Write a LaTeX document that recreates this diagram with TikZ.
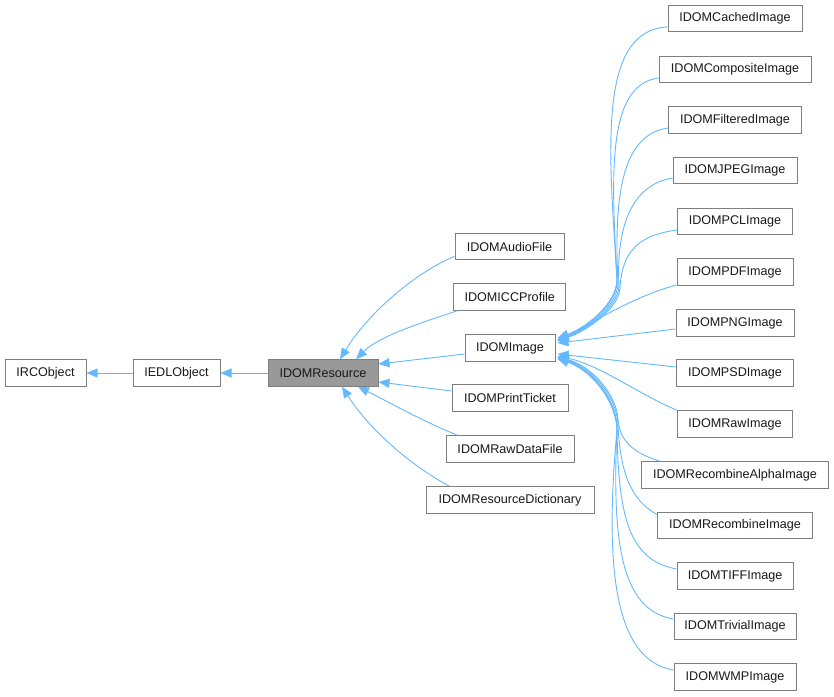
\documentclass[tikz,border=0pt]{standalone}
\usepackage{fontspec}
\setmainfont{Liberation Sans}
\usetikzlibrary{arrows.meta,calc}
\definecolor{edgeblue}{HTML}{63B8FF}
\definecolor{boxline}{HTML}{7F7F7F}
\definecolor{curfill}{HTML}{999999}
\begin{document}
\begin{tikzpicture}[x=1pt,y=-1pt,
  cls/.style={draw=boxline,line width=1pt,fill=white,minimum height=26.5pt,inner sep=0pt,
    font=\fontsize{12.6pt}{14pt}\selectfont,text=black!90},
  cur/.style={cls,fill=curfill},
  inh/.style={draw=edgeblue,line width=0.9pt,-{Triangle[length=11pt,width=9pt]},color=edgeblue}]
\useasboundingbox (0,0) rectangle (834,696);
% left part
\node[cls,minimum width=81pt] (rc) at (45.5,373) {IRCObject};
\node[cls,minimum width=87pt] (edl) at (176.5,373) {IEDLObject};
\node[cur,minimum width=110pt] (res) at (323,373) {IDOMResource};
% middle column
\node[cls,minimum width=109pt] (audio) at (509.5,246.5) {IDOMAudioFile};
\node[cls,minimum width=112pt] (icc) at (509.7,297) {IDOMICCProfile};
\node[cls,minimum width=90pt] (img) at (510,348) {IDOMImage};
\node[cls,minimum width=116pt] (print) at (510,398) {IDOMPrintTicket};
\node[cls,minimum width=128pt] (rawdata) at (510,449) {IDOMRawDataFile};
\node[cls,minimum width=168pt] (dict) at (510,500) {IDOMResourceDictionary};
% right column
\node[cls,minimum width=134pt] (cached) at (735,18.5) {IDOMCachedImage};
\node[cls,minimum width=152pt] (comp) at (735,69.5) {IDOMCompositeImage};
\node[cls,minimum width=133pt] (filt) at (735,120) {IDOMFilteredImage};
\node[cls,minimum width=124pt] (jpeg) at (735,170.5) {IDOMJPEGImage};
\node[cls,minimum width=115pt] (pcl) at (735,221.5) {IDOMPCLImage};
\node[cls,minimum width=116pt] (pdf) at (735,272) {IDOMPDFImage};
\node[cls,minimum width=118pt] (png) at (735,323) {IDOMPNGImage};
\node[cls,minimum width=117pt] (psd) at (735,373) {IDOMPSDImage};
\node[cls,minimum width=115pt] (rawimg) at (735,424) {IDOMRawImage};
\node[cls,minimum width=187pt] (ralpha) at (735,475) {IDOMRecombineAlphaImage};
\node[cls,minimum width=155pt] (recomb) at (735,525.5) {IDOMRecombineImage};
\node[cls,minimum width=116pt] (tiff) at (735,576) {IDOMTIFFImage};
\node[cls,minimum width=122pt] (trivial) at (735,626.5) {IDOMTrivialImage};
\node[cls,minimum width=122pt] (wmp) at (735,677) {IDOMWMPImage};
% edges left
\draw[inh] (edl.west) -- (rc.east);
\draw[inh] (res.west) -- (edl.east);
% edges to IDOMResource
\draw[inh] ($(audio.west)+(0,10)$) .. controls (420,270) and (370,310) .. ($(res.north)+(17,0)$);
\draw[inh] ($(icc.south west)+(4,0)$) .. controls (430,320) and (380,335) .. ($(res.north)+(33,0)$);
\draw[inh] ($(img.west)+(0,6)$) -- ($(res.east)+(0,-9)$);
\draw[inh] ($(print.west)+(0,-7)$) -- ($(res.east)+(0,9)$);
\draw[inh] ($(rawdata.north west)+(12,0)$) .. controls (420,420) and (385,400) .. ($(res.south)+(35,0)$);
\draw[inh] ($(dict.north west)+(24,0)$) .. controls (410,465) and (370,430) .. ($(res.south)+(19,0)$);
% edges to IDOMImage, upper group
\draw[inh] ($(cached.west)+(0,8.5)$) .. controls (595,30) and (610,160) .. (617,280)
   .. controls (616,305) and (585,328) .. ($(img.east)+(2,-10)$);
\draw[inh] ($(comp.west)+(0,8.5)$) .. controls (605,85) and (612,180) .. (617,282)
   .. controls (616,306) and (585,329) .. ($(img.east)+(2,-9)$);
\draw[inh] ($(filt.west)+(0,8)$) .. controls (620,135) and (614,200) .. (618,284)
   .. controls (617,307) and (585,330) .. ($(img.east)+(2,-8.5)$);
\draw[inh] ($(jpeg.west)+(0,7.5)$) .. controls (630,185) and (616,230) .. (619,286)
   .. controls (618,308) and (585,331) .. ($(img.east)+(2,-8)$);
\draw[inh] ($(pcl.west)+(0,8.5)$) .. controls (640,235) and (622,250) .. (620,288)
   .. controls (619,309) and (585,332) .. ($(img.east)+(2,-7.5)$);
\draw[inh] ($(pdf.west)+(0,13)$) .. controls (640,295) and (610,312) .. ($(img.east)+(2,-6.5)$);
\draw[inh] ($(png.west)+(0,6)$) -- ($(img.east)+(2,-5)$);
% lower group
\draw[inh] ($(psd.west)+(0,-6)$) -- ($(img.east)+(2,6)$);
\draw[inh] ($(rawimg.north west)+(0,0)$) .. controls (640,395) and (600,365) .. ($(img.east)+(2,8)$);
\draw[inh] ($(ralpha.north west)+(19,0)$) .. controls (640,455) and (620,445) .. (618,420)
   .. controls (617,395) and (592,366) .. ($(img.east)+(2,9)$);
\draw[inh] ($(recomb.west)+(0,-11)$) .. controls (630,500) and (620,470) .. (618,425)
   .. controls (617,396) and (591,367) .. ($(img.east)+(2,9.5)$);
\draw[inh] ($(tiff.west)+(0,-7)$) .. controls (630,560) and (618,520) .. (617,427)
   .. controls (616,397) and (590,368) .. ($(img.east)+(2,10)$);
\draw[inh] ($(trivial.west)+(0,-7.5)$) .. controls (620,610) and (612,540) .. (617,428)
   .. controls (616,398) and (590,368) .. ($(img.east)+(2,10.5)$);
\draw[inh] ($(wmp.west)+(0,-7)$) .. controls (612,660) and (605,560) .. (617,430)
   .. controls (616,399) and (589,369) .. ($(img.east)+(2,11)$);
\end{tikzpicture}
\end{document}
